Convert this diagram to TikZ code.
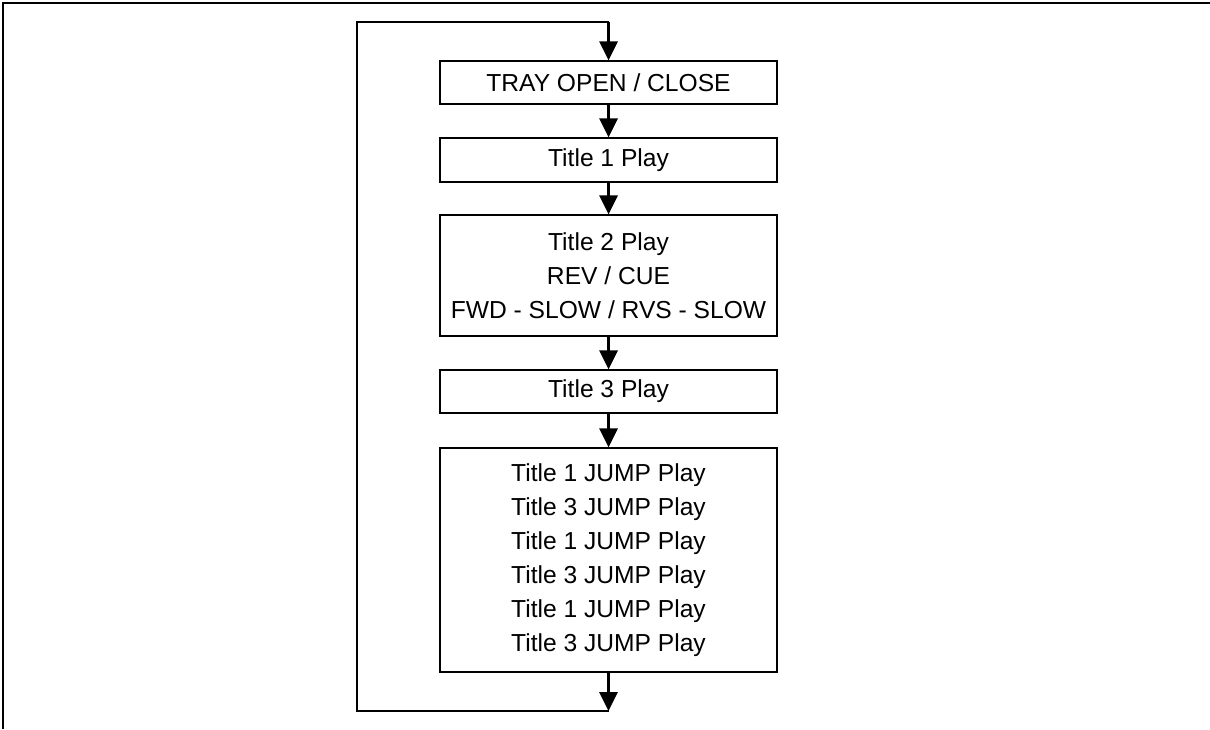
\documentclass[tikz,border=0pt]{standalone}
\usepackage{fontspec}
\setmainfont{Liberation Sans}
\usetikzlibrary{arrows.meta}

\begin{document}
\begin{tikzpicture}[x=0.5pt,y=-0.5pt,
  box/.style={draw,line width=0.6pt,minimum width=168.5pt,align=center,
    font=\fontsize{12.3}{17}\selectfont,inner sep=0pt},
  flow/.style={line width=1.5pt,-{Triangle[length=9.5pt,width=9pt]}}]
  \useasboundingbox (0,0) rectangle (1210,729);
  % ---- frame ----
  \draw[line width=1pt] (1210,3) -- (3,3) -- (3,729);
  % ---- steps ----
  \node[box,minimum height=21.5pt] (tray)  at (608.5,82.5) {TRAY OPEN / CLOSE};
  \node[box,minimum height=22pt]   (t1)    at (608.5,160)  {Title 1 Play};
  \node[box,minimum height=60.5pt] (t2)    at (608.5,275.5)
    {Title 2 Play\\ REV / CUE\\ FWD - SLOW / RVS - SLOW};
  \node[box,minimum height=21.5pt] (t3)    at (608.5,391.5) {Title 3 Play};
  \node[box,minimum height=112pt]  (jump)  at (608.5,560)
    {Title 1 JUMP Play\\ Title 3 JUMP Play\\ Title 1 JUMP Play\\
     Title 3 JUMP Play\\ Title 1 JUMP Play\\ Title 3 JUMP Play};
  \draw[flow] (tray)--(t1); \draw[flow] (t1)--(t2);
  \draw[flow] (t2)--(t3);   \draw[flow] (t3)--(jump);
  % ---- loop back ----
  \coordinate (lb) at (608.5,711);
  \coordinate (lc) at (357,711);
  \coordinate (lt) at (608.5,22);
  \draw[flow] (jump) -- (lb);
  \draw[line width=0.6pt] (lb) -- (lc) |- (lt);
  \draw[flow] (lt) -- (tray);
\end{tikzpicture}
\end{document}
